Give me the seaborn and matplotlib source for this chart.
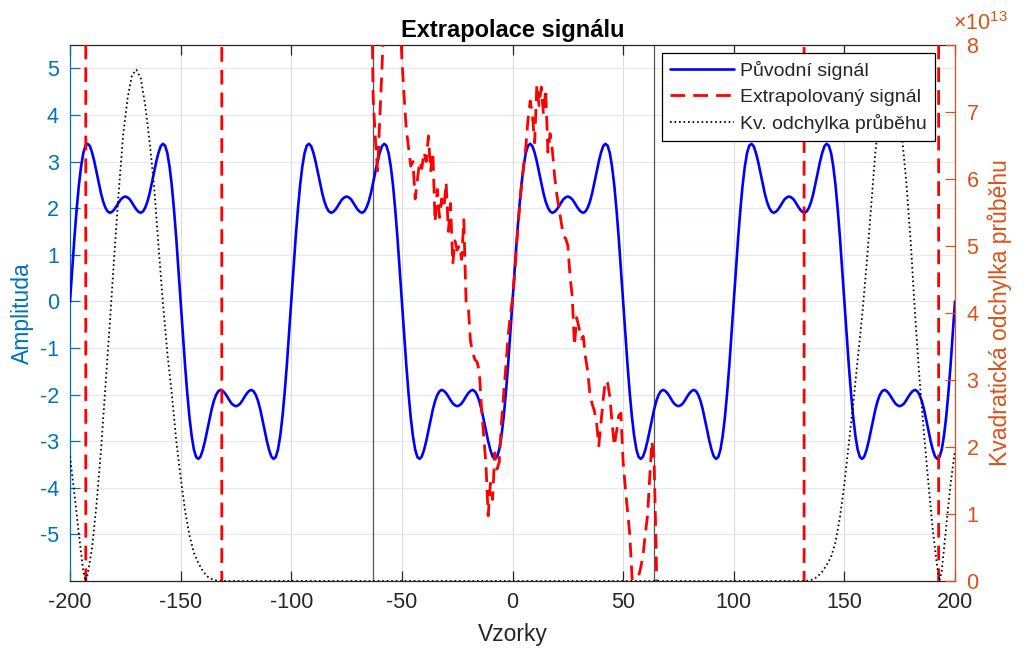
import numpy as np
import matplotlib
matplotlib.use("Agg")
import matplotlib.pyplot as plt
import seaborn as sns
from matplotlib.ticker import ScalarFormatter
from matplotlib.lines import Line2D

# ---------------- data ----------------
samples = list(range(-200, 201))

# original signal ("Původní signál"), one value per sample -200..200
original_signal = [
    0.00, 0.70, 1.37, 1.97, 2.49, 2.89, 3.18, 3.34, 3.38, 3.33, 3.19, 3.00, 2.77, 2.54, 2.32, 2.14, 2.01, 1.93, 1.90, 1.92, 1.97, 2.04, 2.12, 2.19, 2.23,
    2.25, 2.23, 2.19, 2.12, 2.04, 1.97, 1.92, 1.90, 1.93, 2.01, 2.14, 2.32, 2.54, 2.77, 3.00, 3.19, 3.33, 3.38, 3.34, 3.18, 2.89, 2.49, 1.97, 1.37, 0.70,
    0.00, -0.70, -1.37, -1.97, -2.49, -2.89, -3.18, -3.34, -3.38, -3.33, -3.19, -3.00, -2.77, -2.54, -2.32, -2.14, -2.01, -1.93, -1.90, -1.92, -1.97, -2.04, -2.12, -2.19, -2.23,
    -2.25, -2.23, -2.19, -2.12, -2.04, -1.97, -1.92, -1.90, -1.93, -2.01, -2.14, -2.32, -2.54, -2.77, -3.00, -3.19, -3.33, -3.38, -3.34, -3.18, -2.89, -2.49, -1.97, -1.37, -0.70,
    0.00, 0.70, 1.37, 1.97, 2.49, 2.89, 3.18, 3.34, 3.38, 3.33, 3.19, 3.00, 2.77, 2.54, 2.32, 2.14, 2.01, 1.93, 1.90, 1.92, 1.97, 2.04, 2.12, 2.19, 2.23,
    2.25, 2.23, 2.19, 2.12, 2.04, 1.97, 1.92, 1.90, 1.93, 2.01, 2.14, 2.32, 2.54, 2.77, 3.00, 3.19, 3.33, 3.38, 3.34, 3.18, 2.89, 2.49, 1.97, 1.37, 0.70,
    0.00, -0.70, -1.37, -1.97, -2.49, -2.89, -3.18, -3.34, -3.38, -3.33, -3.19, -3.00, -2.77, -2.54, -2.32, -2.14, -2.01, -1.93, -1.90, -1.92, -1.97, -2.04, -2.12, -2.19, -2.23,
    -2.25, -2.23, -2.19, -2.12, -2.04, -1.97, -1.92, -1.90, -1.93, -2.01, -2.14, -2.32, -2.54, -2.77, -3.00, -3.19, -3.33, -3.38, -3.34, -3.18, -2.89, -2.49, -1.97, -1.37, -0.70,
    0.00, 0.70, 1.37, 1.97, 2.49, 2.89, 3.18, 3.34, 3.38, 3.33, 3.19, 3.00, 2.77, 2.54, 2.32, 2.14, 2.01, 1.93, 1.90, 1.92, 1.97, 2.04, 2.12, 2.19, 2.23,
    2.25, 2.23, 2.19, 2.12, 2.04, 1.97, 1.92, 1.90, 1.93, 2.01, 2.14, 2.32, 2.54, 2.77, 3.00, 3.19, 3.33, 3.38, 3.34, 3.18, 2.89, 2.49, 1.97, 1.37, 0.70,
    0.00, -0.70, -1.37, -1.97, -2.49, -2.89, -3.18, -3.34, -3.38, -3.33, -3.19, -3.00, -2.77, -2.54, -2.32, -2.14, -2.01, -1.93, -1.90, -1.92, -1.97, -2.04, -2.12, -2.19, -2.23,
    -2.25, -2.23, -2.19, -2.12, -2.04, -1.97, -1.92, -1.90, -1.93, -2.01, -2.14, -2.32, -2.54, -2.77, -3.00, -3.19, -3.33, -3.38, -3.34, -3.18, -2.89, -2.49, -1.97, -1.37, -0.70,
    0.00, 0.70, 1.37, 1.97, 2.49, 2.89, 3.18, 3.34, 3.38, 3.33, 3.19, 3.00, 2.77, 2.54, 2.32, 2.14, 2.01, 1.93, 1.90, 1.92, 1.97, 2.04, 2.12, 2.19, 2.23,
    2.25, 2.23, 2.19, 2.12, 2.04, 1.97, 1.92, 1.90, 1.93, 2.01, 2.14, 2.32, 2.54, 2.77, 3.00, 3.19, 3.33, 3.38, 3.34, 3.18, 2.89, 2.49, 1.97, 1.37, 0.70,
    0.00, -0.70, -1.37, -1.97, -2.49, -2.89, -3.18, -3.34, -3.38, -3.33, -3.19, -3.00, -2.77, -2.54, -2.32, -2.14, -2.01, -1.93, -1.90, -1.92, -1.97, -2.04, -2.12, -2.19, -2.23,
    -2.25, -2.23, -2.19, -2.12, -2.04, -1.97, -1.92, -1.90, -1.93, -2.01, -2.14, -2.32, -2.54, -2.77, -3.00, -3.19, -3.33, -3.38, -3.34, -3.18, -2.89, -2.49, -1.97, -1.37, -0.70,
    0.00,
]

# extrapolated signal ("Extrapolovaný signál"): huge outside the window
extrap_outer_left_x = [-200, -196, -193, -192, -185, -170, -155, -140, -132, -131, -120, -100, -80, -70, -64]
extrap_outer_left_y = [4.3e6, 2.6e6, 1.5e5, -1.0e6, -4.5e6, -8.7e6, -5.5e6, -1.1e6, -3.0e4, 2.0e4, 1.0e4, 1.0e3, 1.0e2, 30.0, 8.0]
extrap_window_x = list(range(-63, 67))
extrap_window_y = [
    4.4, 3.5, 2.8, 3.9, 5.0, 6.2, 7.5, 8.5, 9.0, 9.0,        # -63..-54
    8.4, 7.5, 6.3, 5.2, 4.4, 3.7, 3.3, 2.9, 3.0, 2.2,        # -53..-44
    2.6, 3.0, 2.85, 3.2, 3.0, 3.55, 2.8, 3.2, 1.7, 2.4,      # -43..-34
    1.8, 2.2, 2.0, 2.55, 1.5, 2.1, 0.8, 1.3, 1.1, 1.2,       # -33..-24
    0.9, 1.75, 0.0, -0.1, -0.85, -1.1, -1.25, -1.3, -1.5, -2.3,   # -23..-14
    -2.9, -3.5, -4.6, -3.9, -4.25, -3.25, -3.6, -3.45, -2.6, -2.0,  # -13..-4
    -1.4, -0.75, -0.3, 0.05, 0.6, 1.3, 1.9, 2.45, 2.9, 3.3,   # -3..6
    3.9, 4.3, 4.0, 3.4, 4.65, 4.2, 4.6, 4.0, 4.55, 3.2,       # 7..16
    3.6, 3.25, 2.7, 2.3, 2.0, 1.7, 1.4, 1.35, 1.2, 0.55,      # 17..26
    0.1, -0.95, -0.35, -0.55, -0.8, -0.75, -1.2, -1.5, -2.0, -2.2,  # 27..36
    -2.35, -2.6, -3.1, -2.6, -2.1, -1.7, -1.75, -2.05, -2.6, -3.1,  # 37..46
    -2.8, -2.45, -2.4, -3.45, -4.0, -4.5, -5.0, -5.9, -6.5, -6.1,   # 47..56
    -5.9, -5.7, -5.45, -5.0, -4.6, -3.8, -3.0, -3.4, -5.5, -9.0,    # 57..66
]
extrap_outer_right_x = [70, 80, 100, 120, 131, 132, 150, 170, 185, 192, 193, 200]
extrap_outer_right_y = [-30.0, -1.0e2, -1.0e3, -1.0e4, -4.0e4, 1.0e4, 1.1e6, 8.7e6, 4.4e6, 3.0e5, -2.0e5, -1.4e6]

# squared deviation ("Kv. odchylka průběhu"), right axis
deviation_x = [-200, -198, -196, -194, -193, -192, -190, -188, -186, -184, -182, -180, -178, -176, -174,
               -172, -170, -168, -166, -164, -162, -160, -158, -156, -154, -152, -150, -148, -146, -144,
               -142, -140, -138, -136, -134, -132, -100, -50, 0, 50, 100, 132, 134, 136, 138, 140, 142,
               144, 146, 148, 150, 152, 154, 156, 158, 160, 162, 164, 166, 168, 170, 172, 174, 176, 178,
               180, 182, 184, 186, 188, 190, 192, 193, 194, 196, 198, 200]
deviation_y = [1.86e13, 1.30e13, 0.70e13, 0.15e13, 0.0, 0.10e13, 0.50e13, 1.15e13, 1.95e13, 2.90e13,
               3.85e13, 4.85e13, 5.80e13, 6.65e13, 7.20e13, 7.55e13, 7.63e13, 7.50e13, 7.10e13, 6.55e13,
               5.90e13, 5.00e13, 4.15e13, 3.40e13, 2.80e13, 2.10e13, 1.55e13, 1.05e13, 0.68e13, 0.42e13,
               0.27e13, 0.15e13, 0.07e13, 0.03e13, 0.01e13, 0.0, 0.0, 0.0, 0.0, 0.0, 0.0,
               0.0, 0.008e13, 0.025e13, 0.07e13, 0.14e13, 0.24e13, 0.36e13, 0.58e13, 0.95e13, 1.45e13,
               2.05e13, 2.65e13, 3.30e13, 3.95e13, 4.70e13, 5.55e13, 6.40e13, 7.00e13, 7.45e13, 7.63e13,
               7.50e13, 7.15e13, 6.65e13, 5.95e13, 5.05e13, 3.95e13, 3.00e13, 2.20e13, 1.45e13, 0.75e13,
               0.20e13, 0.0, 0.15e13, 0.80e13, 1.45e13, 1.95e13]

window_edges = [-63, 64]
x_ticks = [-200, -150, -100, -50, 0, 50, 100, 150, 200]
amp_ticks = [-5, -4, -3, -2, -1, 0, 1, 2, 3, 4, 5]
dev_ticks = [0, 1e13, 2e13, 3e13, 4e13, 5e13, 6e13, 7e13, 8e13]
dev_exponent = 13

labels = ["Původní signál", "Extrapolovaný signál", "Kv. odchylka průběhu"]

# ---------------- style ----------------
sns.set_style("white")
plt.rcParams['font.family'] = ['Liberation Sans', 'DejaVu Sans']
plt.rcParams['axes.unicode_minus'] = False
plt.rcParams['mathtext.fontset'] = 'custom'
plt.rcParams['mathtext.rm'] = 'Liberation Sans'
plt.rcParams['mathtext.it'] = 'Liberation Sans:italic'
plt.rcParams['mathtext.bf'] = 'Liberation Sans:bold'

C_LEFT = '#0072BD'
C_RIGHT = '#D95319'
C_DARK = '#262626'
TICK_FS = 15.5

fig = plt.figure(figsize=(10.29, 6.53), dpi=100)
ax = fig.add_axes([70 / 1029, 1 - 581 / 653, 885 / 1029, 536 / 653])
ax2 = ax.twinx()

# grid
for xt in x_ticks:
    ax.axvline(xt, color='#dcdcdc', lw=0.8, zorder=0)
for yt in amp_ticks:
    ax.axhline(yt, color='#dde9f4', lw=0.8, zorder=0)

# window edges
for xe in window_edges:
    ax.axvline(xe, color='#555555', lw=0.9, zorder=1)

# lines
sns.lineplot(x=samples, y=original_signal, ax=ax, color='#0000FF', lw=1.9,
             estimator=None, sort=False, zorder=3)
extrap_x = extrap_outer_left_x + extrap_window_x + extrap_outer_right_x
extrap_y = extrap_outer_left_y + extrap_window_y + extrap_outer_right_y
sns.lineplot(x=extrap_x, y=extrap_y, ax=ax, color='#FF0000', lw=2.0,
             estimator=None, sort=False, zorder=4, dashes=False)
ax.lines[-1].set_dashes((5.3, 2.9))
sns.lineplot(x=deviation_x, y=deviation_y, ax=ax2, color='black', lw=1.3,
             estimator=None, sort=False, zorder=3)
ax2.lines[-1].set_dashes((0.9, 1.6))

# axes limits / ticks
ax.set_xlim(-200, 200)
ax.set_ylim(-6.0, 5.5)
ax2.set_ylim(0, 8e13)
ax.set_xticks(x_ticks)
ax.set_xticklabels([str(v) for v in x_ticks])
ax.set_yticks(amp_ticks)
ax.set_yticklabels([str(v) for v in amp_ticks])
ax2.set_yticks(dev_ticks)
fmt = ScalarFormatter(useMathText=True)
fmt.set_powerlimits((0, 0))
ax2.yaxis.set_major_formatter(fmt)
ax2.yaxis.get_offset_text().set_visible(False)
ax2.annotate(r"$\times10^{%d}$" % dev_exponent, xy=(1, 1), xycoords='axes fraction',
             xytext=(-1.5, 7), textcoords='offset points', ha='left', va='bottom',
             color=C_RIGHT, fontsize=TICK_FS)

ax.tick_params(axis='x', which='both', direction='in', top=True, bottom=True,
               length=7, width=0.9, color=C_DARK, labelcolor=C_DARK, labelsize=TICK_FS, pad=8)
ax.tick_params(axis='y', direction='in', left=True, right=False, length=7, width=0.9,
               color=C_LEFT, labelcolor=C_LEFT, labelsize=TICK_FS, pad=8)
ax2.tick_params(axis='y', direction='in', right=True, left=False, length=7, width=0.9,
                color=C_RIGHT, labelcolor=C_RIGHT, labelsize=TICK_FS, pad=8)

# spines
ax.spines['left'].set_color(C_LEFT)
ax.spines['right'].set_visible(False)
ax.spines['top'].set_color(C_DARK)
ax.spines['bottom'].set_color(C_DARK)
for s in ['left', 'top', 'bottom']:
    ax2.spines[s].set_visible(False)
ax2.spines['right'].set_color(C_RIGHT)
for sp in list(ax.spines.values()) + [ax2.spines['right']]:
    sp.set_linewidth(0.9)

# labels / title
ax.set_xlabel("Vzorky", fontsize=16.5, color=C_DARK, labelpad=7)
ax.set_ylabel("Amplituda", fontsize=16.5, color=C_LEFT, labelpad=4)
ax2.set_ylabel("Kvadratická odchylka průběhu", fontsize=16.5, color=C_RIGHT, labelpad=6)
ax.set_title("Extrapolace signálu", fontsize=17, fontweight='bold', color='black', pad=6)

# legend
handles = [
    Line2D([], [], color='#0000FF', lw=1.9),
    Line2D([], [], color='#FF0000', lw=2.0, dashes=(5.3, 2.9)),
    Line2D([], [], color='black', lw=1.3, dashes=(0.9, 1.6)),
]
for a in (ax, ax2):
    lg = a.get_legend()
    if lg is not None:
        lg.remove()
leg = ax2.legend(handles, labels, loc='upper right', bbox_to_anchor=(0.9774, 0.985),
                 borderaxespad=0, fontsize=14, frameon=True, fancybox=False,
                 framealpha=1, edgecolor='black', handlelength=3.3, handletextpad=0.3,
                 labelspacing=0.42, borderpad=0.42)
leg.get_frame().set_linewidth(0.9)
leg.set_zorder(10)

fig.savefig("out.png", dpi=100)
